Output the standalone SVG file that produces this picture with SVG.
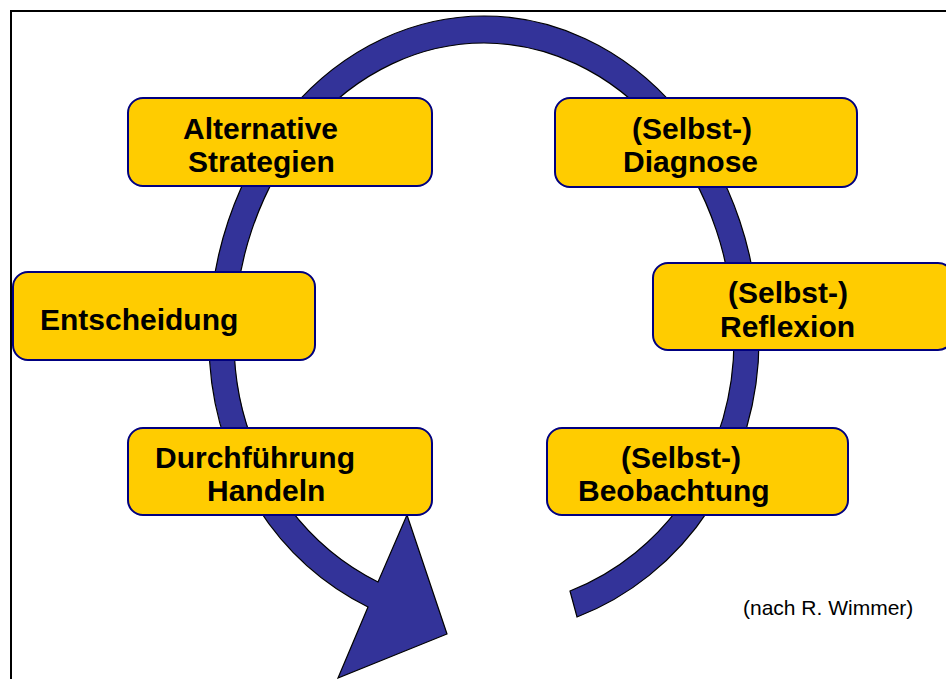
<svg xmlns="http://www.w3.org/2000/svg" width="946" height="679" viewBox="0 0 946 679">
  <style>
    .box { fill: #FFCC00; stroke: #000080; stroke-width: 2; }
    .lbl { font-family: "Liberation Sans", Arial, sans-serif; font-weight: bold; font-size: 30px; fill: #000; }
    .note { font-family: "Liberation Sans", Arial, sans-serif; font-size: 21px; fill: #000; }
  </style>
  <rect x="0" y="0" width="946" height="679" fill="#fff"/>
  <!-- outer frame -->
  <rect x="11" y="11" width="1000" height="1000" fill="none" stroke="#000" stroke-width="2"/>

  <!-- circular cycle arrow -->
  <g id="connectors">
    <path fill="#333399" stroke="#000" stroke-width="1.2" stroke-linejoin="miter"
      d="M 577 617
         A 275 294 0 0 0 759 340
         A 275 324 0 0 0 209 340
         A 275 294 0 0 0 368 607
         L 338 678 L 447 634 L 407 515 L 378 582
         A 250 267 0 0 1 234 340
         A 250 297 0 0 1 734 340
         A 250 267 0 0 1 570 591 Z"/>
  </g>

  <g id="alternative-strategien">
    <rect class="box" x="128" y="98" width="304" height="88" rx="15"/>
    <text class="lbl" x="183" y="139">Alternative</text>
    <text class="lbl" x="188" y="172">Strategien</text>
  </g>

  <g id="selbst-diagnose">
    <rect class="box" x="555" y="98" width="302" height="89" rx="15"/>
    <text class="lbl" x="632" y="139">(Selbst-)</text>
    <text class="lbl" x="623" y="172">Diagnose</text>
  </g>

  <g id="entscheidung">
    <rect class="box" x="13" y="272" width="302" height="88" rx="15"/>
    <text class="lbl" x="40" y="330">Entscheidung</text>
  </g>

  <g id="selbst-reflexion">
    <rect class="box" x="653" y="263" width="300" height="87" rx="15"/>
    <text class="lbl" x="728" y="303">(Selbst-)</text>
    <text class="lbl" x="720" y="337">Reflexion</text>
  </g>

  <g id="durchfuehrung-handeln">
    <rect class="box" x="128" y="428" width="304" height="87" rx="15"/>
    <text class="lbl" x="155" y="468">Durchführung</text>
    <text class="lbl" x="207" y="501">Handeln</text>
  </g>

  <g id="selbst-beobachtung">
    <rect class="box" x="547" y="428" width="301" height="87" rx="15"/>
    <text class="lbl" x="621" y="468">(Selbst-)</text>
    <text class="lbl" x="578" y="501">Beobachtung</text>
  </g>

  <text class="note" x="743" y="615">(nach R. Wimmer)</text>
</svg>
